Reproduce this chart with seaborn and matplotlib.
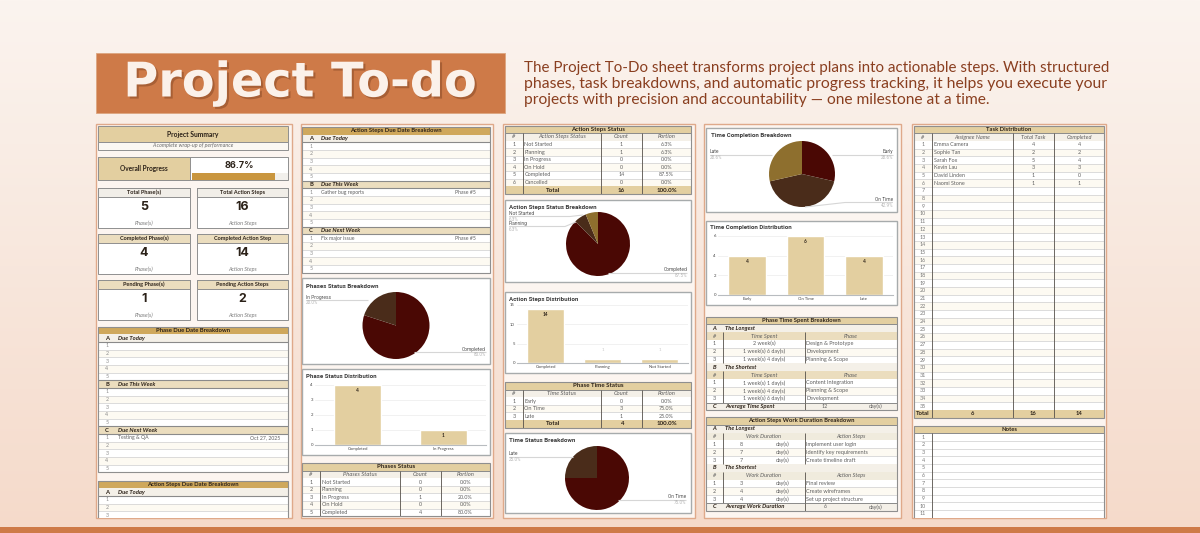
import numpy as np
import matplotlib
matplotlib.use("Agg")
import matplotlib.pyplot as plt
import matplotlib.patheffects as pe
from matplotlib.patches import Rectangle
from matplotlib.colors import to_rgb
import pandas as pd
import seaborn as sns

# ---------- data ----------
DESC_LINES = ["The Project To-Do sheet transforms project plans into actionable steps. With structured",
              "phases, task breakdowns, and automatic progress tracking, it helps you execute your",
              "projects with precision and accountability \u2014 one milestone at a time."]
overall_progress = 86.7
cards_left = [("Total Phase(s)", 5), ("Completed Phase(s)", 4), ("Pending Phase(s)", 1)]
cards_right = [("Total Action Steps", 16), ("Completed Action Step", 14), ("Pending Action Steps", 2)]

phase_due_next = [("Testing & QA", "Oct 27, 2025")]
steps_due_week = [("Gather bug reports", "Phase #5")]
steps_due_next = [("Fix major issue", "Phase #5")]

status_names = ["Not Started", "Planning", "In Progress", "On Hold", "Completed", "Cancelled"]
phase_counts = [0, 0, 1, 0, 4]
phase_portions = ["0.0%", "0.0%", "20.0%", "0.0%", "80.0%"]
step_counts = [1, 1, 0, 0, 14, 0]
step_portions = ["6.3%", "6.3%", "0.0%", "0.0%", "87.5%", "0.0%"]

time_names = ["Early", "On Time", "Late"]
time_counts = [0, 3, 1]
time_portions = ["0.0%", "75.0%", "25.0%"]

phase_pie_values = [80, 20]
step_pie_values = [87.5, 6.25, 6.25]
time_pie_values = [75, 25]
completion_pie_values = [28.6, 42.9, 28.6]

phase_bar_cats = ["Completed", "In Progress"]
phase_bar_vals = [4, 1]
step_bar_cats = ["Completed", "Planning", "Not Started"]
step_bar_vals = [14, 1, 1]
compl_bar_cats = ["Early", "On Time", "Late"]
compl_bar_vals = [4, 6, 4]

spent_long = [("2 week(s)", "Design & Prototype"), ("1 week(s) 6 day(s)", "Development"), ("1 week(s) 4 day(s)", "Planning & Scope")]
spent_short = [("1 week(s) 1 day(s)", "Content Integration"), ("1 week(s) 4 day(s)", "Planning & Scope"), ("1 week(s) 6 day(s)", "Development")]
work_long = [(8, "Implement user login"), (7, "Identify key requirements"), (7, "Create timeline draft")]
work_short = [(3, "Final review"), (4, "Create wireframes"), (4, "Set up project structure")]
avg_spent = 12
avg_work = 6

assignees = ["Emma Camera", "Sophie Tan", "Sarah Fox", "Kevin Lau", "David Linden", "Naomi Stone"]
assignee_total = [4, 2, 5, 3, 1, 1]
assignee_done = [4, 2, 4, 3, 0, 1]

# ---------- style ----------
sns.set_theme(style="white")
plt.rcParams["font.family"] = ["Lato", "DejaVu Sans"]
ORANGE = "#CE7A48"; TAN = "#E3CFA0"; GOLD = "#CFA85C"; SAND = "#EBDDBE"; PALE = "#F4F0E8"
MAROON = "#4A0804"; BROWN = "#4A2C1A"; OLIVE = "#8E6F2E"
BAR = "#E3CFA0"; LINE = "#D6D6D6"; EDGE = "#8F8F8F"; DARK = "#55504A"; INK = "#2B2118"; ROWTXT = "#5F5F5F"
HEAD = 4.2   # table titles and section labels
BODY = 3.9   # table rows

W, H = 1200, 533
fig = plt.figure(figsize=(W / 100, H / 100), dpi=100)
base = fig.add_axes([0, 0, 1, 1], zorder=0)
top = fig.add_axes([0, 0, 1, 1], zorder=5)
for a in (base, top):
    a.set_xlim(0, W); a.set_ylim(H, 0); a.axis("off"); a.patch.set_alpha(0)

c0, c1 = np.array(to_rgb("#FBF4EF")), np.array(to_rgb("#F5DACA"))
grad = np.linspace(0, 1, 200)[:, None, None] * (c1 - c0) + c0
base.imshow(grad, extent=(0, W, H, 0), aspect="auto", zorder=0)
base.set_xlim(0, W); base.set_ylim(H, 0)

CLIP = [None]
LIMIT = 517.0
def _clip(a):
    if CLIP[0] is not None:
        a.set_clip_path(CLIP[0])
    return a
def rect(x0, y0, x1, y1, fc="none", ec="none", lw=0.6, z=2):
    return _clip(base.add_patch(Rectangle((x0, y0), x1 - x0, y1 - y0, fc=fc, ec=ec, lw=lw, zorder=z)))
def hl(x0, x1, y, c=LINE, lw=0.6, z=3):
    return _clip(base.plot([x0, x1], [y, y], color=c, lw=lw, zorder=z, solid_capstyle="butt")[0])
def vl(x, y0, y1, c=DARK, lw=0.6, z=4):
    return _clip(base.plot([x, x], [y0, y1], color=c, lw=lw, zorder=z, solid_capstyle="butt")[0])
def txt(x, y, s, size=BODY, weight="normal", style="normal", color=ROWTXT, ha="center", fam=None, ax=None):
    if y > LIMIT:
        return None
    a = (ax or base).text(x, y, s, fontsize=size, fontweight=weight, fontstyle=style, color=color,
                          ha=ha, va="center", zorder=6, family=fam or ["Lato", "DejaVu Sans"])
    return a

# ---------- header ----------
rect(0, 527, W, H, fc=ORANGE, z=1)
rect(96, 53, 505, 113, fc=ORANGE, ec="#DDA57F", lw=0.6)
t = base.text(300, 83, "Project To-do", fontsize=30, fontweight="bold", color="#FBF1EA", ha="center", va="center",
              family=["DejaVu Sans"], zorder=6)
t.set_path_effects([pe.withSimplePatchShadow(offset=(1.5, -1.5), shadow_rgbFace="#7A4020", alpha=0.45)])
fig.canvas.draw()
rnd = fig.canvas.get_renderer()
t.set_fontsize(30 * 353 / t.get_window_extent(rnd).width)
for i, (line, yy) in enumerate(zip(DESC_LINES, (68, 84, 100))):
    d = base.text(524, yy, line, fontsize=10, color="#8A3F20", ha="left", va="center", family="Lato", zorder=6)
    d.set_fontsize(10 * (586 if i < 2 else 466) / d.get_window_extent(rnd).width)

# ---------- panels ----------
panels = {}
for k, (x0, x1) in enumerate([(95.5, 291.5), (300.5, 493), (503, 695), (703.5, 900.5), (911.5, 1106)]):
    panels[k] = Rectangle((x0, 123.5), x1 - x0, 394.5, fc="#FCF5F0", ec="#DFA98A", lw=1.0, zorder=1)
    base.add_patch(panels[k])

ROW = 7.67
def due_table(x0, x1, ytop, title, name_x, right_x, sections, hdr=GOLD):
    y = ytop
    rect(x0, y, x1, y + ROW, fc=hdr, z=3)
    txt((x0 + x1) / 2, y + ROW / 2, title, HEAD, "bold", color=INK)
    y += ROW
    for i, (let, lab, items) in enumerate(sections):
        rect(x0, y, x1, y + ROW, fc=PALE if i == 0 else SAND, z=3)
        hl(x0, x1, y + ROW, "#8A8A8A", 0.8, 4)
        if i:
            hl(x0, x1, y, "#8A8A8A", 0.8, 4)
        txt(x0 + 9, y + ROW / 2, let, HEAD, "bold", color=INK)
        txt(name_x, y + ROW / 2, lab, HEAD, "bold", "italic", color=INK, ha="left")
        y += ROW
        for r in range(5):
            rect(x0, y, x1, y + ROW, fc="#FFFFFF" if r % 2 == 0 else "#FDFAF2", z=2.5)
            hl(x0, x1, y + ROW)
            txt(x0 + 9, y + ROW / 2, str(r + 1), 3.8, color="#8C8C8C")
            if r < len(items):
                txt(name_x, y + ROW / 2, items[r][0], BODY - 0.2, ha="left")
                txt(right_x, y + ROW / 2, items[r][1], BODY - 0.2)
            y += ROW
    rect(x0, ytop, x1, y, ec=EDGE, lw=0.8, z=5)

def status_table(cols, ytop, title, heads, rows, total=None, pitch=7.6):
    x0, xa, xb, xc, x1 = cols
    y = ytop
    rect(x0, y, x1, y + pitch, fc=TAN, z=3)
    txt((x0 + x1) / 2, y + pitch / 2, title, HEAD + 0.2, "bold", color=INK)
    hl(x0, x1, y + pitch, "#8A8A8A", 0.7, 4)
    y += pitch
    rect(x0, y, x1, y + pitch, fc=PALE, z=3)
    for xm, h in zip(((x0 + xa) / 2, (xa + xb) / 2, (xb + xc) / 2, (xc + x1) / 2), heads):
        txt(xm, y + pitch / 2, h, 4.2, style="italic")
    y += pitch
    y_tab = y - pitch
    for i, r in enumerate(rows):
        rect(x0, y, x1, y + pitch, fc="#FFFFFF" if i % 2 == 0 else "#FDFAF2", z=2.5)
        hl(x0, x1, y + pitch)
        txt((x0 + xa) / 2, y + pitch / 2, str(i + 1), BODY)
        txt(xa + 1.5, y + pitch / 2, r[0], BODY + 0.1, ha="left")
        txt((xb + xc) / 2, y + pitch / 2, str(r[1]), BODY)
        txt((xc + x1) / 2, y + pitch / 2, r[2], BODY)
        y += pitch
    if total:
        rect(x0, y, x1, y + pitch, fc=TAN, z=3)
        txt((x0 + xb) / 2, y + pitch / 2, "Total", HEAD + 0.2, "bold", color=INK)
        txt((xb + xc) / 2, y + pitch / 2, str(total[0]), HEAD + 0.2, "bold", color=INK)
        txt((xc + x1) / 2, y + pitch / 2, total[1], HEAD + 0.2, "bold", color=INK)
        y += pitch
    for xv in (xa, xb, xc):
        vl(xv, y_tab, y, DARK, 0.6, 5)
    rect(x0, ytop, x1, y, ec=EDGE, lw=0.8, z=5)

def card(x0, y0, x1, y1, title, tx, ty):
    rect(x0, y0, x1, y1, fc="white", ec="#A7ABAC", lw=1.0, z=2)
    txt(tx, ty, title, 4.4, "bold", color="#3A3A3A", ha="left", fam=["Roboto", "DejaVu Sans"])

def pie_ax(cx, cy, r, vals, colors):
    pad = r + 0.5
    ax = fig.add_axes([(cx - pad) / W, 1 - (cy + pad) / H, 2 * pad / W, 2 * pad / H], zorder=2)
    ax.pie(vals, colors=colors, startangle=90, counterclock=False, radius=r / pad, wedgeprops={"lw": 0})
    ax.set_xlim(-1, 1); ax.set_ylim(-1, 1)
    return ax

def pie_label(x, y, name, pct, ha, pts):
    top.plot(*zip(*pts), color=LINE, lw=0.8, zorder=3, solid_capstyle="butt")
    txt(x, y - 2.7, name, 3.5, color="#505050", ha=ha, ax=top, fam=["Roboto"])
    txt(x, y + 2.7, pct, 3.3, color="#B5B5B5", ha=ha, ax=top, fam=["Roboto"])

def bar_ax(x0, x1, y_top, y0, cats, vals, ymax, ticks, width):
    ax = fig.add_axes([x0 / W, 1 - y0 / H, (x1 - x0) / W, (y0 - y_top) / H], zorder=2)
    df = pd.DataFrame({"c": cats, "v": vals})
    sns.barplot(df, x="c", y="v", color=BAR, saturation=1, width=width, ax=ax)
    ax.set_ylim(0, ymax); ax.set_yticks(ticks)
    ax.set_xlabel(""); ax.set_ylabel("")
    ax.patch.set_alpha(0)
    ax.tick_params(axis="both", length=0, pad=1.5, labelsize=3.1, labelcolor="#444444")
    ax.grid(axis="y", color="#EFEFEF", lw=0.6); ax.set_axisbelow(True)
    for s in ("top", "left", "right"):
        ax.spines[s].set_visible(False)
    ax.spines["bottom"].set_color("#B8BCC0"); ax.spines["bottom"].set_linewidth(0.8)
    return ax

# ---------- column 1 ----------
CLIP[0] = panels[0]
xL, xM, xR = 98, 190, 288
rect(xL, 126, xR, 142, fc=TAN, ec=EDGE, lw=0.7)
txt(193, 134, "Project Summary", 4.9, "bold", color=INK)
rect(xL, 142, xR, 149.5, fc="#FBF8F2", ec=EDGE, lw=0.7)
txt(193, 145.8, "A complete wrap-up of performance", 3.9, style="italic", color="#6A6A6A")
rect(xL, 157, xR, 180, fc="white", ec=EDGE, lw=0.7)
rect(xL, 157, xM, 180, fc=TAN, ec=EDGE, lw=0.7, z=3)
txt(144, 168.5, "Overall Progress", 4.7, "bold", color=INK)
txt(239, 165.5, f"{overall_progress}%", 6.6, "bold", color=INK, fam=["Inter"])
rect(192, 173, 288, 179.5, fc="#F2F0EC", z=3)
rect(192, 173, 192 + 96 * overall_progress / 100, 179.5, fc="#C9963F", z=3.5)
for (col, xa, xb, unit) in ((cards_left, xL, xM, "Phase(s)"), (cards_right, 197, xR, "Action Steps")):
    for (lab, val), y0, fc in zip(col, (188, 234, 280), ("#F1EEE8", SAND, SAND)):
        rect(xa, y0, xb, y0 + 39.5, fc="white", ec=EDGE, lw=0.7)
        rect(xa, y0, xb, y0 + 8.5, fc=fc, ec=EDGE, lw=0.7, z=3)
        txt((xa + xb) / 2, y0 + 4.2, lab, 4.0, "bold", color=INK)
        txt((xa + xb) / 2, y0 + 19.5, str(val), 9, "bold", color=INK, fam=["Inter"])
        txt((xa + xb) / 2, y0 + 35, unit, 4.0, style="italic", color="#7A7A7A")
due_table(xL, xR, 326.5, "Phase Due Date Breakdown", 118, 265,
          [("A", "Due Today", []), ("B", "Due This Week", []), ("C", "Due Next Week", phase_due_next)])
due_table(xL, xR, 480.5, "Action Steps Due Date Breakdown", 118, 265,
          [("A", "Due Today", []), ("B", "Due This Week", []), ("C", "Due Next Week", [])])

# ---------- column 2 ----------
CLIP[0] = panels[1]
xL, xR = 302, 490
due_table(xL, xR, 127, "Action Steps Due Date Breakdown", 321, 465,
          [("A", "Due Today", []), ("B", "Due This Week", steps_due_week), ("C", "Due Next Week", steps_due_next)])
card(xL, 278, xR, 364, "Phases Status Breakdown", 306, 286)
pie_ax(396, 325.5, 33.5, phase_pie_values, [MAROON, BROWN])
pie_label(306, 300, "In Progress", "20.0%", "left", [(306, 300), (368, 300)])
pie_label(486, 352, "Completed", "80.0%", "right", [(486, 352), (414, 352)])
card(xL, 369, xR, 455, "Phase Status Distribution", 306, 377)
ax = bar_ax(315, 486, 384.5, 445, phase_bar_cats, phase_bar_vals, 4, [0, 1, 2, 3, 4], 0.55)
ax.bar_label(ax.containers[0], padding=-6, fontsize=3.4, color=INK, fontweight="bold")
status_table((xL, 320, 400, 441, xR), 463, "Phases Status", ["#", "Phases Status", "Count", "Portion"],
             list(zip(status_names[:5], phase_counts, phase_portions)), pitch=7.6)

# ---------- column 3 ----------
CLIP[0] = panels[2]
xL, xR = 505, 691
cols3 = (xL, 523, 601, 642, xR)
status_table(cols3, 125.5, "Action Steps Status", ["#", "Action Steps Status", "Count", "Portion"],
             list(zip(status_names, step_counts, step_portions)), (sum(step_counts), "100.0%"))
card(xL, 200, xR, 282, "Action Steps Status Breakdown", 509, 207)
pie_ax(598, 244, 32, step_pie_values, [MAROON, BROWN, OLIVE])
pie_label(509, 216.5, "Not Started", "6.3%", "left", [(509, 216.5), (570, 216.5), (583, 215)])
pie_label(509, 226.5, "Planning", "6.3%", "left", [(509, 226.5), (565, 226.5), (576, 222)])
pie_label(687, 272.5, "Completed", "87.5%", "right", [(687, 272.5), (608, 272.5)])
card(xL, 292, xR, 373, "Action Steps Distribution", 509, 299)
ax = bar_ax(517, 688, 305, 363, step_bar_cats, step_bar_vals, 15, [0, 5, 10, 15], 0.65)
ax.bar_label(ax.containers[0], labels=["14", "", ""], padding=-6, fontsize=3.4, color=INK, fontweight="bold")
ax.bar_label(ax.containers[0], labels=["", "1", "1"], padding=5, fontsize=3.2, color="#C8C8C8")
status_table(cols3, 382, "Phase Time Status", ["#", "Time Status", "Count", "Portion"],
             list(zip(time_names, time_counts, time_portions)), (sum(time_counts), "100.0%"))
card(xL, 433, xR, 513, "Time Status Breakdown", 509, 441)
pie_ax(597, 478, 32, time_pie_values, [MAROON, BROWN])
pie_label(509, 456.5, "Late", "25.0%", "left", [(509, 456.5), (573, 456.5)])
pie_label(686, 499.5, "On Time", "75.0%", "right", [(686, 499.5), (618, 499.5)])

# ---------- column 4 ----------
CLIP[0] = panels[3]
xL, xR = 705.5, 897
card(xL, 128, xR, 212, "Time Completion Breakdown", 711, 135)
pie_ax(802, 174, 33, completion_pie_values, [MAROON, BROWN, OLIVE])
pie_label(710, 154.5, "Late", "28.6%", "left", [(710, 154.5), (772, 154.5)])
pie_label(893, 154.5, "Early", "28.6%", "right", [(893, 154.5), (832, 154.5)])
pie_label(893, 202.5, "On Time", "42.9%", "right", [(893, 202.5), (845, 202.5), (805, 207)])
card(xL, 221, xR, 305, "Time Completion Distribution", 710, 228)
ax = bar_ax(718, 893, 236, 295, compl_bar_cats, compl_bar_vals, 6, [0, 2, 4, 6], 0.65)
ax.bar_label(ax.containers[0], padding=-6, fontsize=3.4, color=INK, fontweight="bold")

def breakdown(ytop, title, head1, head2, long_rows, short_rows, avg_label, avg, work):
    P = 7.82
    xa, xb = 723, 805
    y = ytop
    rect(xL, y, xR, y + P, fc=TAN, z=3)
    txt((xL + xR) / 2, y + P / 2, title, HEAD, "bold", color=INK)
    hl(xL, xR, y + P, "#8A8A8A", 0.7, 4)
    y += P
    for let, lab, rows in (("A", "The Longest", long_rows), ("B", "The Shortest", short_rows)):
        rect(xL, y, xR, y + P, fc=PALE, z=3)
        txt((xL + xa) / 2, y + P / 2, let, HEAD, "bold", "italic", color=INK)
        txt(725, y + P / 2, lab, HEAD, "bold", "italic", color=INK, ha="left")
        y += P
        rect(xL, y, xR, y + P, fc=SAND if not work else "#F0EBDD", z=3)
        txt((xL + xa) / 2, y + P / 2, "#", 4.1, style="italic")
        txt((xa + xb) / 2, y + P / 2, head1, 4.1, style="italic")
        txt((xb + xR) / 2, y + P / 2, head2, 4.1, style="italic")
        vl(xa, y, y + 4 * P); vl(xb, y, y + 4 * P)
        y += P
        for i, (a, b) in enumerate(rows):
            rect(xL, y, xR, y + P, fc="#FFFFFF" if i % 2 == 0 else "#FDFAF2", z=2.5)
            hl(xL, xR, y + P)
            txt((xL + xa) / 2, y + P / 2, str(i + 1), BODY)
            if work:
                txt(741, y + P / 2, str(a), BODY)
                txt(783, y + P / 2, "day(s)", BODY)
            else:
                txt((xa + xb) / 2, y + P / 2, a, BODY)
            txt(xb + 1.5, y + P / 2, b, BODY + 0.1, ha="left")
            y += P
    rect(xL, y, xR, y + P, fc=PALE, z=3)
    hl(xL, xR, y, "#8A8A8A", 0.7, 4)
    txt((xL + xa) / 2, y + P / 2, "C", HEAD, "bold", "italic", color=INK)
    txt(725, y + P / 2, avg_label, HEAD, "bold", "italic", color=INK, ha="left")
    txt(825, y + P / 2, str(avg), BODY)
    txt(876, y + P / 2, "day(s)", BODY)
    vl(xb, y, y + P)
    rect(xL, ytop, xR, y + P, ec=EDGE, lw=0.8, z=5)

breakdown(316.5, "Phase Time Spent Breakdown", "Time Spent", "Phase", spent_long, spent_short, "Average Time Spent", avg_spent, False)
breakdown(417, "Action Steps Work Duration Breakdown", "Work Duration", "Action Steps", work_long, work_short, "Average Work Duration", avg_work, True)

# ---------- column 5 ----------
CLIP[0] = panels[4]
xL, xR = 914, 1104
xa, xb, xc = 932, 1013, 1054
P = 7.69
y = 125.5
rect(xL, y, xR, y + P, fc=TAN, z=3)
txt((xL + xR) / 2, y + P / 2, "Task Distribution", HEAD, "bold", color=INK)
hl(xL, xR, y + P, "#8A8A8A", 0.7, 4)
y += P
rect(xL, y, xR, y + P, fc=PALE, z=3)
for xm, h in zip(((xL + xa) / 2, (xa + xb) / 2, (xb + xc) / 2, (xc + xR) / 2), ("#", "Assignee Name", "Total Task", "Completed")):
    txt(xm, y + P / 2, h, 4.1, style="italic")
y_head = y
y += P
for i in range(35):
    rect(xL, y, xR, y + P, fc="#FFFFFF" if i % 2 == 0 else "#FDFAF2", z=2.5)
    hl(xL, xR, y + P)
    txt((xL + xa) / 2, y + P / 2, str(i + 1), BODY, color="#777777")
    if i < len(assignees):
        txt(xa + 1.5, y + P / 2, assignees[i], BODY, ha="left")
        txt((xb + xc) / 2, y + P / 2, str(assignee_total[i]), BODY)
        txt((xc + xR) / 2, y + P / 2, str(assignee_done[i]), BODY)
    y += P
rect(xL, y, xR, y + P, fc=TAN, z=3)
txt((xL + xa) / 2, y + P / 2, "Total", HEAD, "bold", color=INK)
txt((xa + xb) / 2, y + P / 2, str(len(assignees)), HEAD, "bold", color=INK)
txt((xb + xc) / 2, y + P / 2, str(sum(assignee_total)), HEAD, "bold", color=INK)
txt((xc + xR) / 2, y + P / 2, str(sum(assignee_done)), HEAD, "bold", color=INK)
for xv in (xa, xb, xc):
    vl(xv, y_head, y + P, DARK, 0.6, 5)
rect(xL, 125.5, xR, y + P, ec=EDGE, lw=0.8, z=5)

y = 425.5
rect(xL, y, xR, y + P, fc=TAN, z=3)
txt((xL + xR) / 2, y + P / 2, "Notes", HEAD, "bold", color=INK)
hl(xL, xR, y + P, "#8A8A8A", 0.7, 4)
y += P
ystart = y
for i in range(12):
    rect(xL, y, xR, y + P, fc="#FFFFFF", z=2.5)
    hl(xL, xR, y + P)
    txt((xL + xa) / 2, y + P / 2, str(i + 1), BODY, color="#777777")
    y += P
vl(xa, ystart, y, DARK, 0.6, 5)
rect(xL, 425.5, xR, y, ec=EDGE, lw=0.8, z=5)
CLIP[0] = None

fig.savefig("out.png", dpi=100)
